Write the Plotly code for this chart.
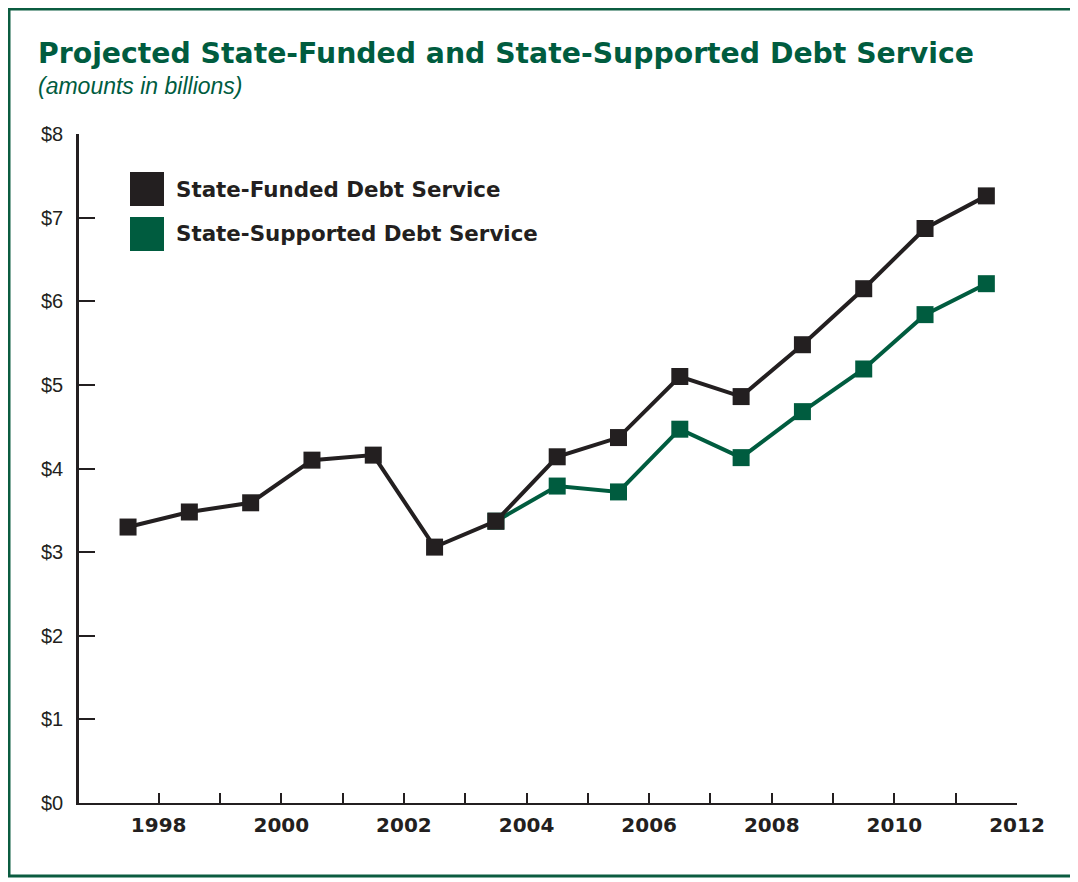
import plotly.graph_objects as go

# fiscal years (points sit at mid-year, between the year ticks)
fiscal_years = [1998, 1999, 2000, 2001, 2002, 2003, 2004, 2005,
                2006, 2007, 2008, 2009, 2010, 2011, 2012]
state_funded = [3.30, 3.48, 3.59, 4.10, 4.16, 3.06, 3.37, 4.14,
                4.37, 5.10, 4.86, 5.48, 6.15, 6.87, 7.26]
state_supported = [None, None, None, None, None, None, 3.37, 3.79,
                   3.72, 4.47, 4.13, 4.68, 5.19, 5.84, 6.21]

tick_years = list(range(1998, 2013))
tick_text = [str(y) if y % 2 == 0 else '' for y in tick_years]
y_vals = list(range(0, 9))
y_text = [f'${v}' for v in y_vals]

BLACK = '#231f20'
GREEN = '#005c3f'

# page body adds an 8px offset, so the figure is a bit smaller than the window
OFF = 8
W, H = 1068, 872
L, T = 79 - OFF, 134 - OFF
R = W - (1017 - OFF)
B = H - (803 - OFF)

# helpers: window pixel -> paper coordinates (for layout decorations only)
def px(x):
    return (x - OFF - L) / (W - L - R)

def py(y):
    return (H - B - (y - OFF)) / (H - T - B)

x_mid = [y - 0.5 for y in fiscal_years]

fig = go.Figure()
fig.add_trace(go.Scatter(x=x_mid, y=state_supported, mode='lines+markers', name='State-Supported Debt Service',
                         line=dict(color=GREEN, width=4), marker=dict(symbol='square', size=17, color=GREEN)))
fig.add_trace(go.Scatter(x=x_mid, y=state_funded, mode='lines+markers', name='State-Funded Debt Service',
                         line=dict(color=BLACK, width=4), marker=dict(symbol='square', size=17, color=BLACK)))

fig.update_xaxes(range=[1996.7, 2012], tickvals=tick_years, ticktext=tick_text,
                 showline=True, linecolor=BLACK, linewidth=2, showgrid=False, zeroline=False,
                 ticks='inside', ticklen=10, tickwidth=2, tickcolor=BLACK, ticklabelstandoff=3,
                 tickfont=dict(family='DejaVu Sans', size=20, color=BLACK, weight='bold'))
fig.update_yaxes(range=[0, 8], tickvals=y_vals, ticktext=y_text,
                 showline=True, linecolor=BLACK, linewidth=2.5, showgrid=False, zeroline=False,
                 ticks='inside', ticklen=16, tickwidth=2, tickcolor=BLACK, ticklabelstandoff=9,
                 tickfont=dict(family='Liberation Sans', size=20, color=BLACK))

shapes = [
    # frame
    dict(type='rect', xref='paper', yref='paper', x0=px(9), x1=px(1073), y0=py(876), y1=py(9),
         line=dict(color='#0b5c40', width=3)),
    # legend swatches
    dict(type='rect', xref='paper', yref='paper', x0=px(130), x1=px(164), y0=py(206), y1=py(172),
         fillcolor=BLACK, line=dict(width=0)),
    dict(type='rect', xref='paper', yref='paper', x0=px(130), x1=px(164), y0=py(251), y1=py(217),
         fillcolor=GREEN, line=dict(width=0)),
]

annotations = [
    dict(text='<b>State-Funded Debt Service</b>', x=px(174), y=py(189), xanchor='left', yanchor='middle',
         font=dict(family='DejaVu Sans', size=21.4, color=BLACK)),
    dict(text='<b>State-Supported Debt Service</b>', x=px(174), y=py(234), xanchor='left', yanchor='middle',
         font=dict(family='DejaVu Sans', size=21.4, color=BLACK)),
    dict(text='<i>(amounts in billions)</i>', x=px(36), y=py(86), xanchor='left', yanchor='middle',
         font=dict(family='Liberation Sans', size=23, color=GREEN)),
    dict(text='<b>Projected State-Funded and State-Supported Debt Service</b>', x=px(36), y=py(54),
         xanchor='left', yanchor='middle',
         font=dict(family='DejaVu Sans', size=28.3, color=GREEN)),
]
for a in annotations:
    a.update(xref='paper', yref='paper', showarrow=False)

fig.update_layout(
    width=W, height=H, margin=dict(l=L, r=R, t=T, b=B),
    paper_bgcolor='white', plot_bgcolor='white', showlegend=False,
    shapes=shapes, annotations=annotations,
)

fig.write_html('out.html')
